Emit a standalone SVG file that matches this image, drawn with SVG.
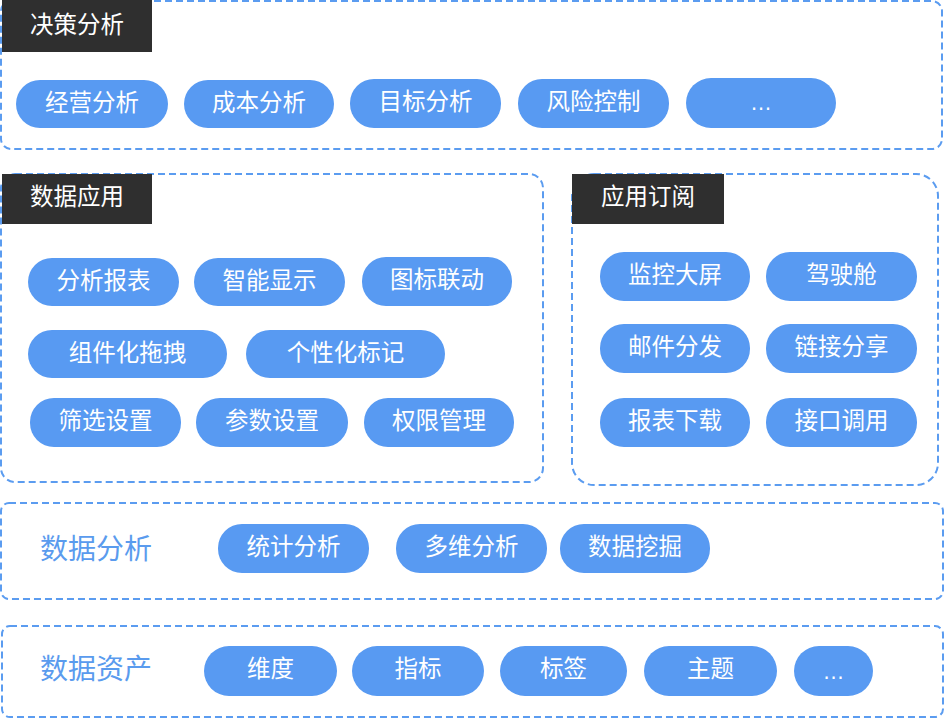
<svg xmlns="http://www.w3.org/2000/svg" width="944" height="720" viewBox="0 0 944 720">
<style>
.box{fill:none;stroke:#5b9cf0;stroke-width:2;stroke-dasharray:7 4}
.hd{fill:#2f2f2f}
.hdt{fill:#ffffff;font-family:"Noto Sans CJK SC",sans-serif;font-size:23.5px;text-anchor:middle;dominant-baseline:central}
.pill{fill:#589af2}
.pt{fill:#ffffff;font-family:"Noto Sans CJK SC",sans-serif;font-size:23.5px;text-anchor:middle;dominant-baseline:central}
.el{fill:#ffffff;font-family:"Liberation Sans",sans-serif;font-size:22px;text-anchor:middle}
.lbl{fill:#5a9bee;font-family:"Noto Sans CJK SC",sans-serif;font-size:28px;dominant-baseline:central}
</style>
<g id="decision">
<rect class="box" x="1" y="1" width="941" height="148" rx="10"/>
<rect class="hd" x="2" y="0" width="150" height="52"/>
<text class="hdt" x="77" y="23">决策分析</text>
<rect class="pill" x="16" y="80" width="152" height="48" rx="24"/><text class="pt" x="92" y="101">经营分析</text>
<rect class="pill" x="184" y="80" width="150" height="48" rx="24"/><text class="pt" x="259" y="101">成本分析</text>
<rect class="pill" x="350" y="79" width="151" height="49" rx="24"/><text class="pt" x="425.5" y="100">目标分析</text>
<rect class="pill" x="518" y="79" width="151" height="49" rx="24"/><text class="pt" x="593.5" y="100">风险控制</text>
<rect class="pill" x="686" y="78" width="150" height="50" rx="25"/><text class="el" x="761" y="110">…</text>
</g>
<g id="dataapp">
<rect class="box" x="1" y="174" width="542" height="308" rx="14"/>
<rect class="hd" x="2" y="174" width="150" height="50"/>
<text class="hdt" x="77" y="195">数据应用</text>
<rect class="pill" x="28" y="258" width="151" height="48" rx="24"/><text class="pt" x="103.5" y="279">分析报表</text>
<rect class="pill" x="194" y="258" width="151" height="48" rx="24"/><text class="pt" x="269.5" y="279">智能显示</text>
<rect class="pill" x="362" y="257" width="150" height="49" rx="24"/><text class="pt" x="437" y="278">图标联动</text>
<rect class="pill" x="28" y="330" width="199" height="48" rx="24"/><text class="pt" x="127.5" y="351">组件化拖拽</text>
<rect class="pill" x="246" y="330" width="199" height="48" rx="24"/><text class="pt" x="345.5" y="351">个性化标记</text>
<rect class="pill" x="30" y="398" width="151" height="49" rx="24"/><text class="pt" x="105.5" y="419">筛选设置</text>
<rect class="pill" x="196" y="398" width="152" height="49" rx="24"/><text class="pt" x="272" y="419">参数设置</text>
<rect class="pill" x="364" y="398" width="150" height="49" rx="24"/><text class="pt" x="439" y="419">权限管理</text>
</g>
<g id="subscribe">
<rect class="box" x="572" y="174" width="366" height="311" rx="22"/>
<rect class="hd" x="572" y="174" width="152" height="50"/>
<text class="hdt" x="648" y="195">应用订阅</text>
<rect class="pill" x="600" y="252" width="150" height="49" rx="24"/><text class="pt" x="675" y="273">监控大屏</text>
<rect class="pill" x="766" y="252" width="151" height="49" rx="24"/><text class="pt" x="841.5" y="273">驾驶舱</text>
<rect class="pill" x="600" y="324" width="150" height="49" rx="24"/><text class="pt" x="675" y="345">邮件分发</text>
<rect class="pill" x="766" y="324" width="151" height="49" rx="24"/><text class="pt" x="841.5" y="345">链接分享</text>
<rect class="pill" x="600" y="398" width="150" height="49" rx="24"/><text class="pt" x="675" y="419">报表下载</text>
<rect class="pill" x="766" y="398" width="151" height="49" rx="24"/><text class="pt" x="841.5" y="419">接口调用</text>
</g>
<g id="analysis">
<rect class="box" x="1" y="503" width="942" height="96" rx="8"/>
<text class="lbl" x="40" y="547">数据分析</text>
<rect class="pill" x="218" y="524" width="151" height="49" rx="24"/><text class="pt" x="293.5" y="545">统计分析</text>
<rect class="pill" x="396" y="524" width="151" height="49" rx="24"/><text class="pt" x="471.5" y="545">多维分析</text>
<rect class="pill" x="560" y="524" width="150" height="49" rx="24"/><text class="pt" x="635" y="545">数据挖掘</text>
</g>
<g id="assets">
<rect class="box" x="2" y="626" width="941" height="91" rx="8"/>
<text class="lbl" x="40" y="667">数据资产</text>
<rect class="pill" x="204" y="646" width="133" height="50" rx="25"/><text class="pt" x="270.5" y="667">维度</text>
<rect class="pill" x="352" y="646" width="132" height="50" rx="25"/><text class="pt" x="418" y="667">指标</text>
<rect class="pill" x="500" y="646" width="127" height="50" rx="25"/><text class="pt" x="563.5" y="667">标签</text>
<rect class="pill" x="644" y="646" width="133" height="50" rx="25"/><text class="pt" x="710.5" y="667">主题</text>
<rect class="pill" x="794" y="646" width="79" height="50" rx="25"/><text class="el" x="833.5" y="679">…</text>
</g>
<g id="connectors"/>
</svg>
